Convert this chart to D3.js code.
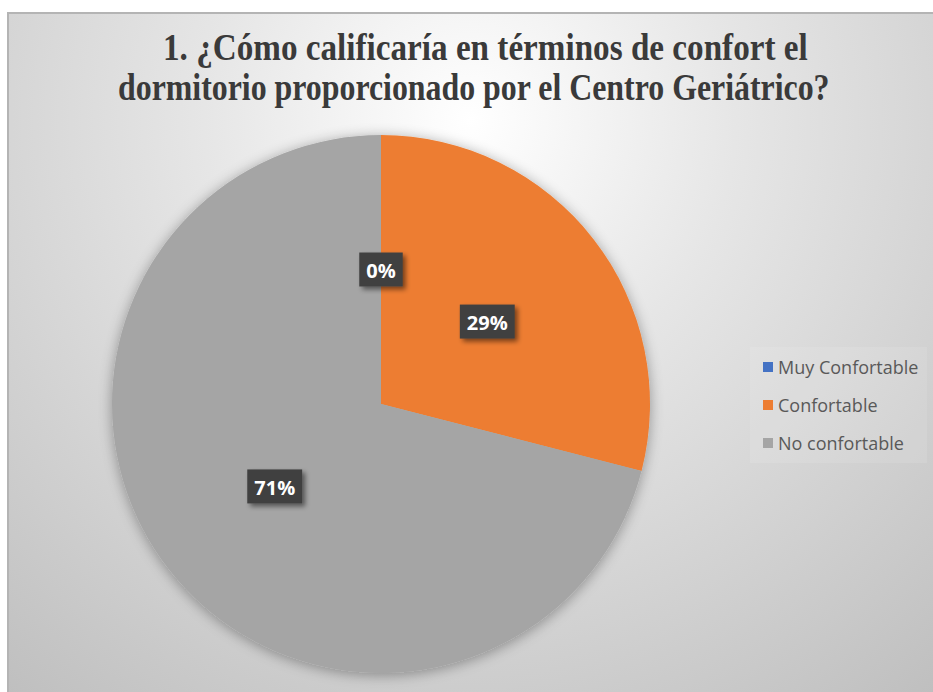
<!DOCTYPE html>
<html>
<head>
<meta charset="utf-8">
<script src="https://cdn.jsdelivr.net/npm/d3@7/dist/d3.min.js"></script>
<style>
  html, body { margin: 0; padding: 0; background: #ffffff; }
  svg { display: block; }
</style>
</head>
<body>
<svg id="chart" width="933" height="692"></svg>
<script>
// Survey answers (percent of respondents)
const categories = ["Muy Confortable", "Confortable", "No confortable"];
const values = [0, 29, 71];
const sliceColors = ["#4472C4", "#ED7D31", "#A5A5A5"];
const titleLines = [
  "1. ¿Cómo calificaría en términos de confort el",
  "dormitorio proporcionado por el Centro Geriátrico?"
];

const svg = d3.select("#chart");
const defs = svg.append("defs");

// Chart area background: soft radial gradient, bright near the title
const bg = defs.append("radialGradient")
  .attr("id", "bgGrad")
  .attr("gradientUnits", "userSpaceOnUse")
  .attr("cx", 470).attr("cy", 120).attr("r", 760);
bg.append("stop").attr("offset", 0).attr("stop-color", "#ffffff");
bg.append("stop").attr("offset", 0.35).attr("stop-color", "#e6e6e6");
bg.append("stop").attr("offset", 1).attr("stop-color", "#bdbdbd");

// Soft halo under the pie
const halo = defs.append("filter").attr("id", "pieHalo")
  .attr("x", "-20%").attr("y", "-20%").attr("width", "140%").attr("height", "140%");
halo.append("feGaussianBlur").attr("in", "SourceAlpha").attr("stdDeviation", 7).attr("result", "b");
halo.append("feOffset").attr("in", "b").attr("dx", 0).attr("dy", 2).attr("result", "o");
halo.append("feComponentTransfer").attr("in", "o").attr("result", "s")
  .append("feFuncA").attr("type", "linear").attr("slope", 0.35);
const hm = halo.append("feMerge");
hm.append("feMergeNode").attr("in", "s");
hm.append("feMergeNode").attr("in", "SourceGraphic");

// Drop shadow for the value boxes
const ds = defs.append("filter").attr("id", "boxShadow")
  .attr("x", "-30%").attr("y", "-30%").attr("width", "170%").attr("height", "170%");
ds.append("feGaussianBlur").attr("in", "SourceAlpha").attr("stdDeviation", 2.5).attr("result", "b");
ds.append("feOffset").attr("in", "b").attr("dx", 3).attr("dy", 3).attr("result", "o");
ds.append("feComponentTransfer").attr("in", "o").attr("result", "s")
  .append("feFuncA").attr("type", "linear").attr("slope", 0.5);
const dm = ds.append("feMerge");
dm.append("feMergeNode").attr("in", "s");
dm.append("feMergeNode").attr("in", "SourceGraphic");

// Chart frame
svg.append("rect")
  .attr("x", 8).attr("y", 13).attr("width", 960).attr("height", 700)
  .attr("fill", "url(#bgGrad)")
  .attr("stroke", "#b4b4b4").attr("stroke-width", 2);

// Title: condensed serif lines, each squeezed horizontally to its width
const titleWidths = [645, 712];
const titleX = [163, 118];
titleLines.forEach((line, i) => {
  const g = svg.append("g");
  const t = g.append("text")
    .attr("font-family", "'Liberation Serif', 'Times New Roman', serif")
    .attr("font-weight", "bold")
    .attr("font-size", 38)
    .attr("fill", "#3a3a3a")
    .text(line);
  const sx = titleWidths[i] / t.node().getComputedTextLength();
  g.attr("transform", `translate(${titleX[i]},${60 + i * 40}) scale(${sx},1)`);
});

// Pie
const cx = 381, cy = 404, radius = 269;
const data = categories.map((c, i) => ({ category: c, value: values[i], color: sliceColors[i] }));
const total = d3.sum(values);
const pie = d3.pie().sort(null).value(d => d.value);
const arc = d3.arc().innerRadius(0).outerRadius(radius);
const arcs = pie(data);

const pieG = svg.append("g").attr("transform", `translate(${cx},${cy})`);
pieG.append("g").attr("filter", "url(#pieHalo)")
  .selectAll("path")
  .data(arcs)
  .join("path")
  .attr("d", arc)
  .attr("fill", d => d.data.color);

// Value labels in dark boxes
const pct = d3.format(".0%");
const labels = pieG.selectAll("g.lbl")
  .data(arcs)
  .join("g")
  .attr("class", "lbl")
  .attr("transform", d => `translate(${arc.centroid(d)})`);

labels.each(function(d) {
  const g = d3.select(this);
  const rect = g.append("rect").attr("fill", "#404040").attr("filter", "url(#boxShadow)");
  const t = g.append("text")
    .attr("text-anchor", "middle")
    .attr("dominant-baseline", "central")
    .attr("font-family", "'Open Sans', sans-serif")
    .attr("font-weight", "bold")
    .attr("font-size", 20)
    .attr("fill", "#ffffff")
    .attr("y", 1)
    .text(pct(d.data.value / total));
  const w = t.node().getComputedTextLength() + 14;
  rect.attr("x", -w / 2).attr("y", -17).attr("width", w).attr("height", 34);
});

// Legend
const legend = svg.append("g").attr("transform", "translate(750,347)");
legend.append("rect")
  .attr("width", 177).attr("height", 116)
  .attr("fill", "#ffffff").attr("fill-opacity", 0.1);
const items = legend.selectAll("g.item")
  .data(data)
  .join("g")
  .attr("class", "item")
  .attr("transform", (d, i) => `translate(13,${20 + i * 38})`);
items.append("rect")
  .attr("x", 0).attr("y", -5).attr("width", 10).attr("height", 10)
  .attr("fill", d => d.color);
items.append("text")
  .attr("x", 15)
  .attr("dominant-baseline", "central")
  .attr("font-family", "'Open Sans', sans-serif")
  .attr("font-size", 18)
  .attr("fill", "#595959")
  .text(d => d.category);
</script>
</body>
</html>
